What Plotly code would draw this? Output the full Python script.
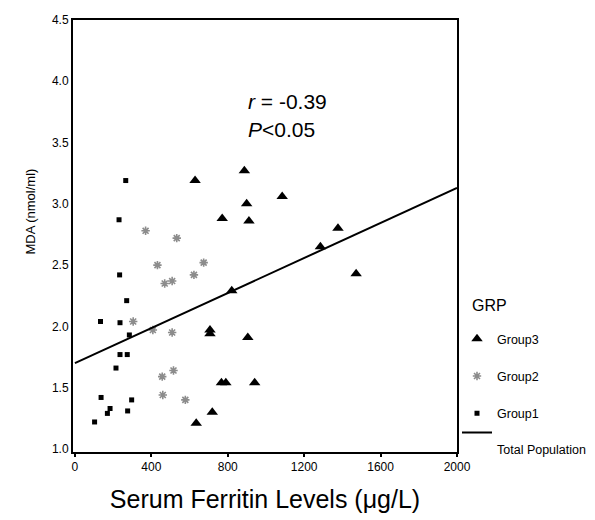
import plotly.graph_objects as go

# Group 1 (squares)
g1_x = [266, 231, 234, 271, 134, 236, 285, 236, 274, 215, 137, 297, 184, 170, 276, 103]
g1_y = [3.19, 2.87, 2.42, 2.21, 2.04, 2.03, 1.93, 1.77, 1.77, 1.66, 1.42, 1.40, 1.33, 1.29, 1.31, 1.22]

# Group 2 (gray asterisks)
g2_x = [370, 533, 432, 674, 623, 470, 509, 305, 408, 509, 457, 516, 460, 578]
g2_y = [2.78, 2.72, 2.50, 2.52, 2.42, 2.35, 2.37, 2.04, 1.97, 1.95, 1.59, 1.64, 1.44, 1.40]

# Group 3 (triangles)
g3_x = [629, 887, 899, 1085, 771, 911, 707, 707, 905, 821, 767, 790, 941, 719, 635, 1377, 1285, 1472]
g3_y = [3.19, 3.27, 3.00, 3.06, 2.88, 2.86, 1.97, 1.94, 1.91, 2.29, 1.54, 1.54, 1.54, 1.30, 1.21, 2.80, 2.65, 2.43]

# Total population regression line
fit_x = [0, 2000]
fit_y = [1.70, 3.13]

x_ticks = [0, 400, 800, 1200, 1600, 2000]
y_ticks = [1.0, 1.5, 2.0, 2.5, 3.0, 3.5, 4.0, 4.5]

FONT = "Liberation Sans, Arial, sans-serif"

fig = go.Figure()
fig.add_trace(go.Scatter(x=g3_x, y=g3_y, mode="markers", name="Group3", legendgroup="g3",
                         marker=dict(symbol="triangle-up", size=10, color="black")))
fig.add_trace(go.Scatter(x=g2_x, y=g2_y, mode="markers", name="Group2", legendgroup="g2",
                         marker=dict(symbol="asterisk-open", size=7, color="#8c8c8c",
                                     line=dict(color="#8c8c8c", width=1.6))))
fig.add_trace(go.Scatter(x=g1_x, y=g1_y, mode="markers", name="Group1", legendgroup="g1",
                         marker=dict(symbol="square", size=5, color="black")))
fig.add_trace(go.Scatter(x=fit_x, y=fit_y, mode="lines", name="<br>Total Population", legendgroup="g1",
                         line=dict(color="black", width=2)))

fig.add_annotation(x=895, y=3.835, xref="x", yref="y", xanchor="left", yanchor="middle",
                   text="<i>r</i> = -0.39", showarrow=False,
                   font=dict(family=FONT, size=21, color="black"))
fig.add_annotation(x=895, y=3.605, xref="x", yref="y", xanchor="left", yanchor="middle",
                   text="<i>P</i>&lt;0.05", showarrow=False,
                   font=dict(family=FONT, size=21, color="black"))

# y-axis title
fig.add_annotation(x=-0.11, y=0.556, xref="paper", yref="paper", xanchor="center", yanchor="middle",
                   text="MDA (nmol/ml)", textangle=-90, showarrow=False,
                   font=dict(family=FONT, size=13, color="black"))

# legend heading
fig.add_annotation(x=1.034, y=0.338, xref="paper", yref="paper", xanchor="left", yanchor="middle",
                   text="GRP", showarrow=False,
                   font=dict(family=FONT, size=16, color="black"))

fig.update_layout(
    width=587, height=512,
    margin=dict(l=65, r=138, t=12, b=68, autoexpand=False),
    paper_bgcolor="white", plot_bgcolor="white",
    font=dict(family=FONT, color="black", size=12),
    showlegend=True,
    legend=dict(x=1.0, y=0.296, xanchor="left", yanchor="top",
                font=dict(size=12.5), tracegroupgap=18, valign="top",
                bgcolor="rgba(0,0,0,0)"),
)
fig.update_xaxes(range=[-10, 2000], tickvals=x_ticks, ticktext=[str(v) for v in x_ticks],
                 showgrid=False, zeroline=False, showline=True, linecolor="black", linewidth=2,
                 mirror=True, ticks="outside", ticklen=3, tickwidth=2, tickcolor="black",
                 tickfont=dict(size=12),
                 title=dict(text="Serum Ferritin Levels (\u03bcg/L)", font=dict(size=25), standoff=17))
fig.update_yaxes(range=[0.975, 4.5], tickvals=y_ticks, ticktext=[f"{v:.1f}" for v in y_ticks],
                 showgrid=False, zeroline=False, showline=True, linecolor="black", linewidth=2,
                 mirror=True, ticks="", tickfont=dict(size=12))

fig.write_html("out.html")
